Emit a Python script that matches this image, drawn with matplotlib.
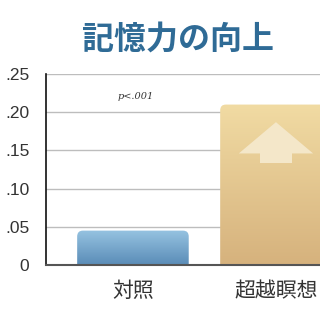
import numpy as np
import matplotlib
matplotlib.use("Agg")
import matplotlib.pyplot as plt
from matplotlib.patches import FancyBboxPatch, Polygon

plt.rcParams['font.family'] = ['Noto Sans CJK JP', 'DejaVu Sans']

# data
groups = ["対照", "超越瞑想"]
values = [0.045, 0.21]
yticks = [0, 0.05, 0.10, 0.15, 0.20, 0.25]
ytick_labels = ["0", ".05", ".10", ".15", ".20", ".25"]
title = "記憶力の向上"
note = "p<.001"

fig = plt.figure(figsize=(3.2, 3.2), dpi=100)
ax = fig.add_axes([46 / 320, 55 / 320, 274 / 320, 191 / 320])

x = np.arange(len(groups))
width = 0.78
bars = ax.bar(x, values, width=width, color="none", edgecolor="none", zorder=3)

# gradient fills with rounded top corners
grads = [("#96c3e1", "#5a8cb7"), ("#f1dba3", "#d6b27d")]
for b, (top, bot) in zip(bars, grads):
    x0, w, h = b.get_x(), b.get_width(), b.get_height()
    c1 = np.array(matplotlib.colors.to_rgb(top))
    c2 = np.array(matplotlib.colors.to_rgb(bot))
    t = np.linspace(0, 1, 100)[:, None]
    img = (c1 * (1 - t) + c2 * t)[:, None, :]
    im = ax.imshow(img, extent=[x0, x0 + w, 0, h], aspect="auto", zorder=3,
                   interpolation="bilinear")
    clip = FancyBboxPatch((x0, -0.02), w, h + 0.02,
                          boxstyle="round,pad=0,rounding_size=0.04",
                          mutation_aspect=0.19, transform=ax.transData,
                          facecolor="none", edgecolor="none")
    ax.add_patch(clip)
    im.set_clip_path(clip)

# up arrow inside the second bar
bx = x[1]
arrow = Polygon([[bx - 0.26, 0.146], [bx + 0.26, 0.146], [bx, 0.187]],
                closed=True, facecolor="#f4e7c9", edgecolor="none", zorder=4)
shaft = Polygon([[bx - 0.11, 0.146], [bx + 0.11, 0.146], [bx + 0.11, 0.133],
                 [bx - 0.11, 0.133]], closed=True, facecolor="#f4e7c9",
                edgecolor="none", zorder=4)
ax.add_patch(arrow)
ax.add_patch(shaft)

ax.set_xlim(-0.608, 1.308)
ax.set_ylim(0, 0.25)
ax.set_yticks(yticks)
ax.set_yticklabels(ytick_labels, family="Liberation Sans", fontsize=12.5,
                   color="#333333")
ax.set_xticks(x)
ax.set_xticklabels(groups, fontsize=15, color="#333333")
ax.tick_params(axis="y", length=0, pad=12)
ax.tick_params(axis="x", length=0, pad=11)

ax.grid(axis="y", color="#bdbdbd", linewidth=1, zorder=1)
ax.set_axisbelow(True)
for s in ["top", "right"]:
    ax.spines[s].set_visible(False)
ax.spines["left"].set_color("#111111")
ax.spines["left"].set_linewidth(1.2)
ax.spines["bottom"].set_color("#555555")
ax.spines["bottom"].set_linewidth(1.5)
ax.spines["bottom"].set_zorder(5)

ax.text(0.02, 0.22, note, fontsize=7, style="italic", family="DejaVu Serif",
        color="#333333", ha="center", va="center")

fig.text(178 / 320, 1 - 40 / 320, title, fontsize=23, fontweight="bold",
         color="#2f6b96", ha="center", va="center")

fig.savefig("out.png", dpi=100)
